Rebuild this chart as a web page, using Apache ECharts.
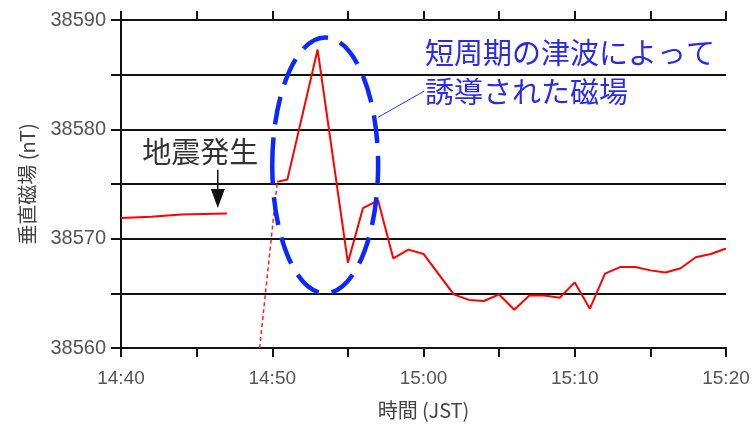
<!DOCTYPE html>
<html>
<head>
<meta charset="utf-8">
<script src="https://cdn.jsdelivr.net/npm/echarts@6/dist/echarts.min.js"></script>
<style>
  html, body { margin: 0; padding: 0; background: #fff; }
  #main { width: 755px; height: 434px; }
</style>
</head>
<body>
<div id="main"></div>
<script>
// 地震前（14:47まで）
var preTimes = ['14:40', '14:42', '14:44', '14:47'];
var preVals = [38571.9, 38572.0, 38572.2, 38572.3];
// 欠測区間（点線）
var gapTimes = ['14:49:10', '14:50:20'];
var gapVals = [38560, 38575.2];
// 地震後
var postTimes = ['14:50:20', '14:51', '14:53', '14:55', '14:56', '14:57', '14:58', '14:59', '15:00',
  '15:02', '15:03', '15:04', '15:05', '15:06', '15:07', '15:08', '15:09', '15:10', '15:11',
  '15:12', '15:13', '15:14', '15:15', '15:16', '15:17', '15:18', '15:19', '15:20'];
var postVals = [38575.2, 38575.4, 38587.3, 38567.8, 38572.8, 38573.5, 38568.2, 38569.0, 38568.6,
  38564.9, 38564.4, 38564.3, 38564.9, 38563.5, 38564.8, 38564.8, 38564.6, 38566.0, 38563.6,
  38566.8, 38567.4, 38567.4, 38567.1, 38566.9, 38567.3, 38568.3, 38568.6, 38569.1];

var xTickLabels = ['14:40', '14:50', '15:00', '15:10', '15:20'];
var yTickLabels = ['38560', '38570', '38580', '38590'];

var NUM_FONT = 'Liberation Sans';
var JP_FONT = 'Noto Sans CJK JP';

// 14:40からの分
function toMin(t) {
  var p = t.split(':');
  var m = (+p[0]) * 60 + (+p[1]) + (p[2] ? (+p[2]) / 60 : 0);
  return m - (14 * 60 + 40);
}
function pairs(ts, vs) {
  return ts.map(function (t, i) { return [toMin(t), vs[i]]; });
}

var chart = echarts.init(document.getElementById('main'));

var axisLine = { lineStyle: { color: '#111', width: 2 } };

option = {
  animation: false,
  grid: { left: 121, right: 29, top: 20, bottom: 86 },
  xAxis: [
    {
      type: 'value', position: 'bottom', min: 0, max: 40, interval: 5,
      axisLine: axisLine,
      axisTick: { length: 9, lineStyle: { color: '#111', width: 2 } },
      splitLine: { show: false },
      axisLabel: {
        margin: 21, fontFamily: NUM_FONT, fontSize: 19, color: '#555',
        formatter: function (v) { return v % 10 === 0 ? xTickLabels[v / 10] : ''; }
      },
      name: '時間 (JST)', nameLocation: 'middle', nameGap: 52,
      nameTextStyle: { fontFamily: JP_FONT, fontSize: 20, color: '#444' }
    },
    {
      type: 'value', position: 'top', min: 0, max: 40, interval: 5,
      axisLine: axisLine,
      axisTick: { length: 9, lineStyle: { color: '#111', width: 2 } },
      splitLine: { show: false },
      axisLabel: { show: false }
    }
  ],
  yAxis: [
    {
      type: 'value', position: 'left', min: 38560, max: 38590, interval: 5,
      axisLine: axisLine,
      axisTick: { length: 10, lineStyle: { color: '#111', width: 2 } },
      splitLine: { lineStyle: { color: '#111', width: 2 } },
      axisLabel: {
        margin: 15, fontFamily: NUM_FONT, fontSize: 20, color: '#555',
        formatter: function (v) { return v % 10 === 0 ? yTickLabels[(v - 38560) / 10] : ''; }
      },
      name: '垂直磁場 (nT)', nameLocation: 'middle', nameGap: 84,
      nameTextStyle: { fontFamily: JP_FONT, fontSize: 20, color: '#444' }
    },
    {
      type: 'value', position: 'right', min: 38560, max: 38590, interval: 5,
      axisLine: axisLine,
      axisTick: { length: 9, lineStyle: { color: '#111', width: 2 } },
      splitLine: { show: false },
      axisLabel: { show: false }
    }
  ],
  series: [
    {
      type: 'line', data: pairs(preTimes, preVals), showSymbol: false,
      lineStyle: { color: '#ff0000', width: 2 }
    },
    {
      type: 'line', data: pairs(gapTimes, gapVals), showSymbol: false,
      lineStyle: { color: '#ff2020', width: 1.5, type: [4, 3] }
    },
    {
      type: 'line', data: pairs(postTimes, postVals), showSymbol: false,
      lineStyle: { color: '#ff0000', width: 2 }
    }
  ]
};
chart.setOption(option);

// 注記（データ座標から位置を求める）
function px(m, v) { return chart.convertToPixel({ gridIndex: 0 }, [m, v]); }
var c = px(13.5, 38576.7);
var e = px(17.0, 38565.0);
var arrTop = px(6.4, 38576.3);
var arrTip = px(6.4, 38572.8);
var quakeTxt = px(1.4, 38577.9);
var blue1 = px(20.1, 38587.0);
var blue2 = px(20.1, 38583.4);
var lead0 = px(17.0, 38581.1);
var lead1 = px(20.05, 38583.5);

chart.setOption({
  graphic: [
    {
      type: 'ellipse', z: 100,
      shape: { cx: c[0], cy: c[1], rx: e[0] - c[0], ry: e[1] - c[1] },
      style: { fill: null, stroke: '#0a28ff', lineWidth: 4.5, lineDash: [28, 13] }
    },
    {
      type: 'line', z: 100,
      shape: { x1: lead0[0], y1: lead0[1], x2: lead1[0], y2: lead1[1] },
      style: { stroke: '#2233ee', lineWidth: 1 }
    },
    {
      type: 'text', z: 100, x: blue1[0], y: blue1[1],
      style: { text: '短周期の津波によって', fill: '#2a2ae8', font: '29px "Noto Sans CJK JP"', textVerticalAlign: 'middle' }
    },
    {
      type: 'text', z: 100, x: blue2[0], y: blue2[1],
      style: { text: '誘導された磁場', fill: '#2a2ae8', font: '29px "Noto Sans CJK JP"', textVerticalAlign: 'middle' }
    },
    {
      type: 'text', z: 100, x: quakeTxt[0], y: quakeTxt[1],
      style: { text: '地震発生', fill: '#333', font: '29px "Noto Sans CJK JP"', textVerticalAlign: 'middle' }
    },
    {
      type: 'line', z: 100,
      shape: { x1: arrTop[0], y1: arrTop[1], x2: arrTip[0], y2: arrTip[1] - 12 },
      style: { stroke: '#111', lineWidth: 1.5 }
    },
    {
      type: 'polygon', z: 100,
      shape: { points: [[arrTip[0] - 7, arrTip[1] - 19], [arrTip[0] + 7, arrTip[1] - 19], [arrTip[0], arrTip[1]]] },
      style: { fill: '#111' }
    }
  ]
});
</script>
</body>
</html>
